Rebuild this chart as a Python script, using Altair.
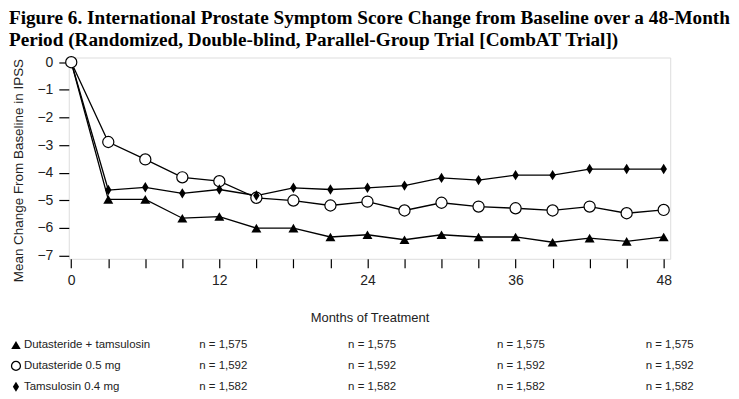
import altair as alt
import pandas as pd

months = [0, 3, 6, 9, 12, 15, 18, 21, 24, 27, 30, 33, 36, 39, 42, 45, 48]
combo = [0, -4.97, -4.97, -5.65, -5.59, -6.01, -6.01, -6.33, -6.25, -6.43, -6.25, -6.33, -6.33, -6.52, -6.37, -6.49, -6.33]
dut = [0, -2.89, -3.52, -4.17, -4.31, -4.91, -5.01, -5.19, -5.05, -5.37, -5.09, -5.23, -5.29, -5.37, -5.23, -5.47, -5.35]
tam = [0, -4.63, -4.53, -4.75, -4.61, -4.83, -4.55, -4.61, -4.55, -4.47, -4.19, -4.27, -4.09, -4.09, -3.87, -3.87, -3.87]

series_names = ["Dutasteride + tamsulosin", "Dutasteride 0.5 mg", "Tamsulosin 0.4 mg"]
n_values = ["n = 1,575", "n = 1,592", "n = 1,582"]
n_columns = [1, 2, 3, 4]

y_ticks = [-7, -6, -5, -4, -3, -2, -1, 0]

title_lines = [
    "Figure 6. International Prostate Symptom Score Change from Baseline over a 48-Month",
    "Period (Randomized, Double-blind, Parallel-Group Trial [CombAT Trial])",
]

SANS = "Liberation Sans, Arial, sans-serif"
INK = "#222222"
DIAMOND = "M0,-1L0.62,0L0,1L-0.62,0Z"

rows = []
for name, vals in zip(series_names, [combo, dut, tam]):
    for m, v in zip(months, vals):
        rows.append({"series": name, "month": m, "value": v})
df = pd.DataFrame(rows)

table_rows = []
for i, (lab, n) in enumerate(zip(series_names, n_values)):
    table_rows.append({"row": i, "col": 0, "series": lab, "text": lab})
    for c in n_columns:
        table_rows.append({"row": i, "col": c, "series": lab, "text": n})
tdf = pd.DataFrame(table_rows)

xscale = alt.Scale(domain=[-0.2, 48.53], nice=False, zero=False)
yscale = alt.Scale(domain=[-7.12, 0.17], nice=False, zero=False)

x_axis = alt.Axis(
    values=months,
    labelExpr="datum.value % 12 == 0 ? datum.value : ''",
    title="Months of Treatment",
    grid=False, domain=False, tickSize=9, tickColor="black", tickWidth=1.2,
    labelFont=SANS, labelFontSize=14, labelColor=INK, labelPadding=6,
    titleFont=SANS, titleFontSize=13, titleFontWeight="normal", titleColor=INK,
    titleY=59, titleBaseline="middle",
)
y_axis = alt.Axis(
    values=y_ticks,
    title="Mean Change From Baseline in IPSS",
    grid=False, domain=False, tickSize=10, tickColor="black", tickWidth=1.2,
    labelFont=SANS, labelFontSize=14, labelColor=INK, labelPadding=6,
    titleFont=SANS, titleFontSize=13.5, titleFontWeight="normal", titleColor=INK,
    titleX=-43, titleY=113, titleAnchor="middle", titleBaseline="bottom",
)

base = alt.Chart(df)
X = alt.X("month:Q", scale=xscale, axis=x_axis)
Y = alt.Y("value:Q", scale=yscale, axis=y_axis)

lines = base.mark_line(color="black", strokeWidth=1.3).encode(x=X, y=Y, detail="series:N")

circles = base.transform_filter(alt.datum.series == series_names[1]).mark_point(
    shape="circle", size=125, filled=True, fill="white", stroke="black", strokeWidth=1.2, opacity=1
).encode(x=X, y=Y)

diamonds = base.transform_filter(
    (alt.datum.series == series_names[2]) & (alt.datum.month > 0)
).mark_point(
    shape=DIAMOND, size=110, filled=True, color="black", opacity=1
).encode(x=X, y=Y)

triangles = base.transform_filter(
    (alt.datum.series == series_names[0]) & (alt.datum.month > 0)
).mark_point(
    shape="triangle-up", size=100, filled=True, color="black", opacity=1
).encode(x=X, y=Y)

plot = alt.layer(lines, circles, diamonds, triangles)

row_scale = alt.Scale(type="point", domain=[0, 1, 2], range=[288.5, 330.5], padding=0)
RY = alt.Y("row:O", scale=row_scale, axis=None)
tbase = alt.Chart(tdf)

labels_layer = tbase.transform_filter(alt.datum.col == 0).mark_text(
    align="left", baseline="middle", font=SANS, fontSize=11.5, color=INK
).encode(x=alt.value(-45), y=RY, text="text:N")

sym_tri = tbase.transform_filter((alt.datum.col == 0) & (alt.datum.series == series_names[0])).mark_point(
    shape="triangle-up", size=90, filled=True, color="black", opacity=1
).encode(x=alt.value(-53), y=RY)
sym_circ = tbase.transform_filter((alt.datum.col == 0) & (alt.datum.series == series_names[1])).mark_point(
    shape="circle", size=80, filled=False, color="black", strokeWidth=1.3, opacity=1
).encode(x=alt.value(-53), y=RY)
sym_dia = tbase.transform_filter((alt.datum.col == 0) & (alt.datum.series == series_names[2])).mark_point(
    shape=DIAMOND, size=100, filled=True, color="black", opacity=1
).encode(x=alt.value(-53), y=RY)

n_layer = tbase.transform_filter(alt.datum.col > 0).mark_text(
    align="left", baseline="middle", font=SANS, fontSize=11.5, color=INK
).encode(
    x=alt.X("col:O", scale=alt.Scale(type="point", domain=n_columns, range=[131, 579], padding=0), axis=None),
    y=RY,
    text="text:N",
)
table = alt.layer(labels_layer, sym_tri, sym_circ, sym_dia, n_layer)

chart = alt.layer(plot, table).resolve_scale(x="independent", y="independent").properties(
    width=603.6,
    height=202,
    padding=0,
    title=alt.TitleParams(
        text=title_lines, anchor="start", frame="bounds", font="Liberation Serif",
        fontSize=19.3, fontWeight="bold", color="black", lineHeight=22, offset=4,
    ),
).configure_view(stroke="black", strokeWidth=1.5).configure(background="white")

chart.save("out.html", embed_options={"renderer": "svg", "actions": False})
